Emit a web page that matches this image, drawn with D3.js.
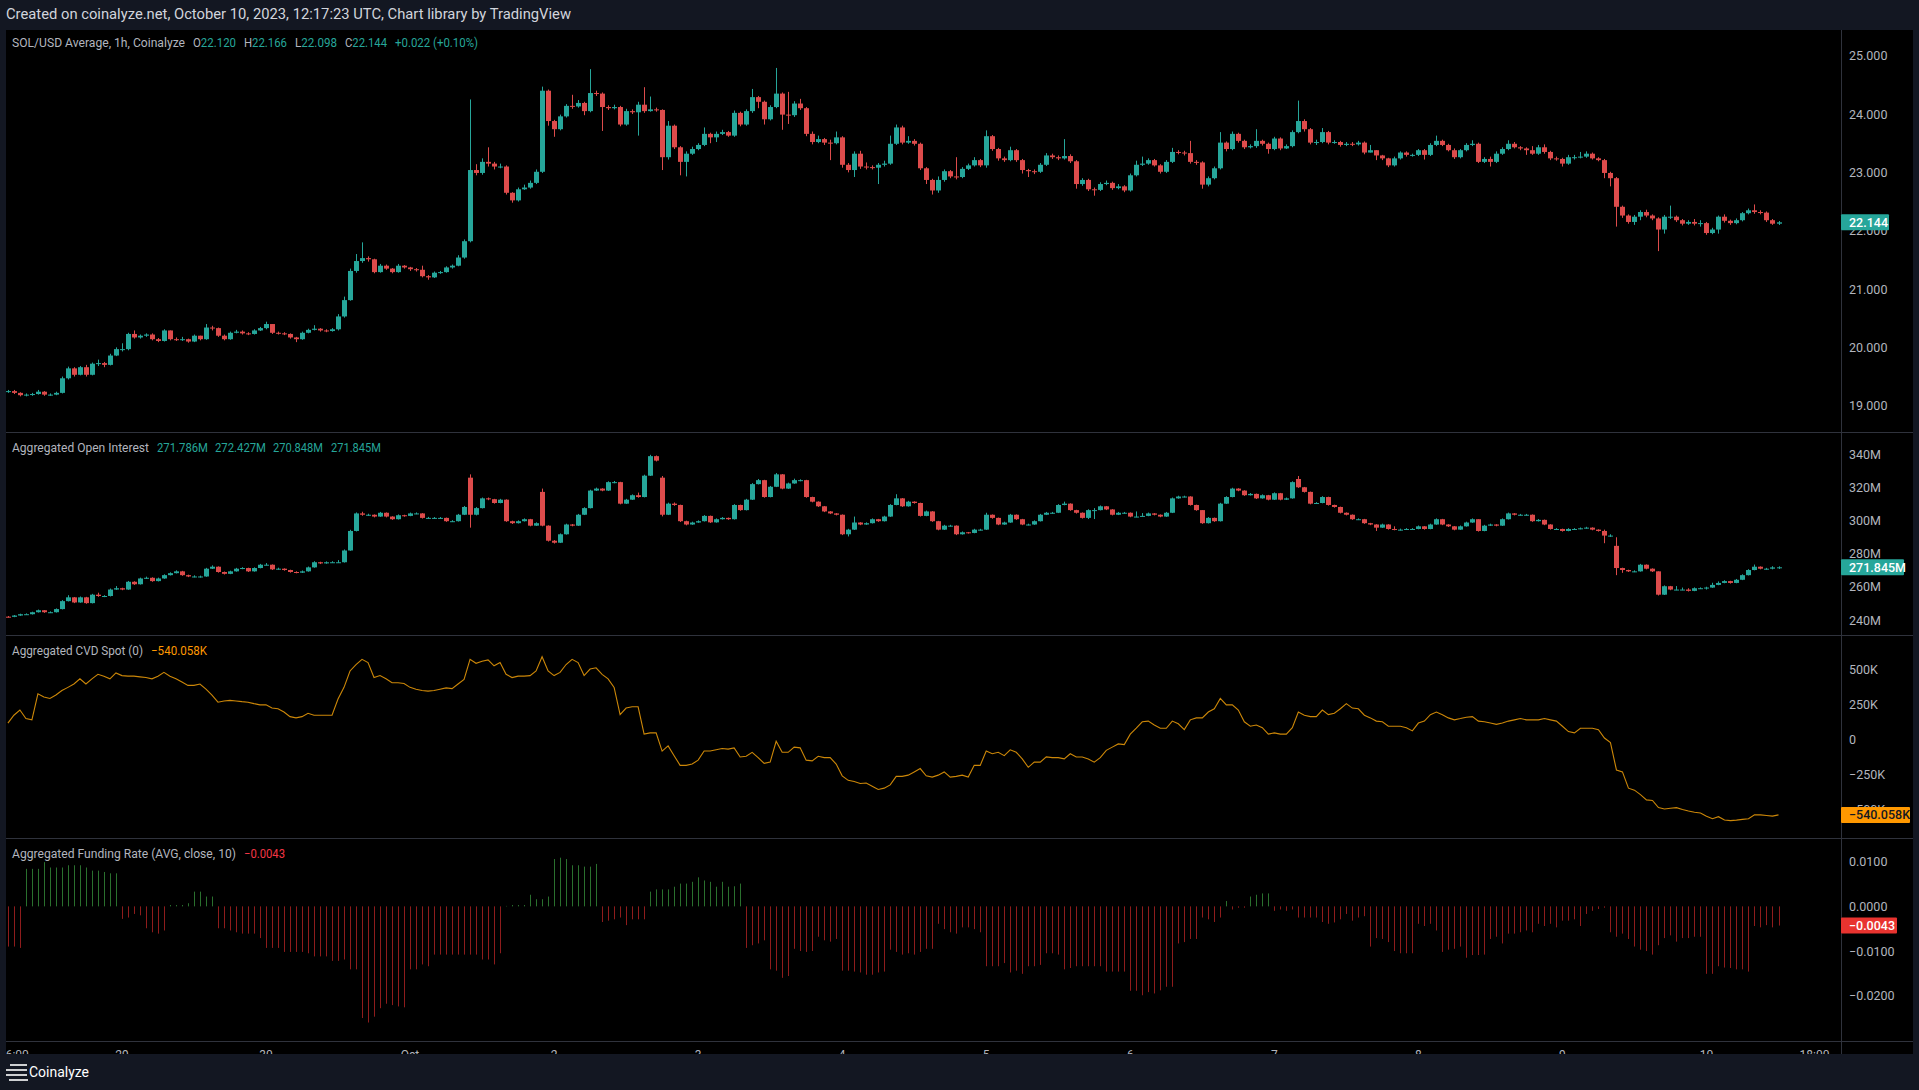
<!DOCTYPE html>
<html><head><meta charset="utf-8">
<script src="https://cdn.jsdelivr.net/npm/d3@7"></script>
<style>html,body{margin:0;padding:0;background:#131722;overflow:hidden}svg{display:block}</style>
</head><body>
<script>
// ---------------- DATA ----------------
const startTime = "2023-09-28T05:00:00Z";   // first hourly bar
const barHours = 1;

const priceOpenFirst = 19.24;
const priceClose = [
19.25,19.22,19.18,19.19,19.20,19.24,19.19,19.19,19.22,19.47,
19.64,19.53,19.66,19.53,19.72,19.73,19.70,19.86,19.97,19.97,
20.23,20.17,20.20,20.22,20.14,20.11,20.29,20.14,20.13,20.14,
20.10,20.20,20.14,20.34,20.33,20.20,20.14,20.25,20.27,20.24,
20.23,20.29,20.33,20.40,20.25,20.24,20.23,20.17,20.14,20.25,
20.30,20.32,20.29,20.28,20.31,20.53,20.81,21.31,21.48,21.53,
21.51,21.29,21.40,21.35,21.29,21.40,21.37,21.34,21.33,21.22,
21.20,21.28,21.29,21.37,21.40,21.54,21.82,23.04,22.99,23.18,
23.15,23.10,23.10,22.65,22.52,22.71,22.74,22.82,23.01,24.40,
23.88,23.74,23.96,24.14,24.13,24.19,24.05,24.36,24.35,24.12,
24.10,24.12,23.82,24.05,24.03,24.16,24.05,24.08,24.07,23.26,
23.80,23.43,23.18,23.32,23.40,23.47,23.66,23.60,23.66,23.69,
23.63,24.02,23.82,24.05,24.29,24.21,23.91,24.12,24.35,23.99,
23.98,24.18,24.10,23.66,23.52,23.57,23.51,23.50,23.60,23.13,
23.04,23.32,23.10,23.09,23.08,23.13,23.15,23.49,23.77,23.51,
23.54,23.49,23.07,22.87,22.69,22.87,23.02,22.93,22.92,23.06,
23.12,23.21,23.12,23.62,23.40,23.24,23.21,23.38,23.21,23.04,
23.02,23.01,23.13,23.29,23.26,23.24,23.28,23.19,22.80,22.87,
22.71,22.70,22.80,22.82,22.73,22.76,22.69,22.95,23.13,23.15,
23.21,23.12,23.01,23.18,23.35,23.34,23.33,23.18,23.17,22.79,
22.90,23.07,23.51,23.40,23.66,23.54,23.43,23.45,23.54,23.49,
23.40,23.58,23.41,23.45,23.69,23.88,23.74,23.51,23.52,23.69,
23.51,23.52,23.47,23.49,23.48,23.51,23.34,23.38,23.29,23.24,
23.12,23.24,23.34,23.30,23.30,23.38,23.30,23.47,23.54,23.47,
23.38,23.26,23.38,23.47,23.49,23.18,23.23,23.18,23.32,23.40,
23.49,23.43,23.41,23.38,23.32,23.43,23.35,23.24,23.23,23.15,
23.26,23.26,23.27,23.32,23.24,23.21,22.99,22.90,22.41,22.26,
22.15,22.24,22.32,22.26,22.21,22.02,22.24,22.24,22.18,22.12,
22.15,22.12,22.13,21.96,22.02,22.24,22.17,22.13,22.18,22.30,
22.35,22.32,22.31,22.18,22.12,22.144];
const priceHigh = [
19.27,19.27,19.23,19.21,19.22,19.27,19.25,19.21,19.24,19.50,
19.67,19.66,19.68,19.70,19.74,19.79,19.75,19.89,20.00,20.07,
20.25,20.29,20.22,20.24,20.24,20.16,20.31,20.29,20.17,20.18,
20.15,20.22,20.20,20.40,20.37,20.34,20.22,20.27,20.30,20.29,
20.26,20.31,20.35,20.44,20.40,20.27,20.26,20.24,20.18,20.27,
20.32,20.38,20.33,20.31,20.33,20.57,20.87,21.35,21.60,21.80,
21.56,21.52,21.43,21.42,21.36,21.43,21.41,21.38,21.36,21.40,
21.24,21.30,21.31,21.39,21.42,21.58,21.85,24.25,23.14,23.24,
23.43,23.18,23.15,23.12,22.66,22.74,22.79,22.86,23.05,24.47,
24.42,23.90,23.99,24.17,24.33,24.24,24.21,24.77,24.40,24.37,
24.15,24.16,24.14,24.09,24.08,24.21,24.46,24.30,24.11,24.08,
23.88,23.82,23.45,23.36,23.44,23.50,23.77,23.68,23.70,23.73,
23.71,24.06,24.04,24.08,24.43,24.31,24.23,24.15,24.79,24.37,
24.38,24.22,24.26,24.12,23.70,23.63,23.59,23.56,23.70,23.62,
23.16,23.36,23.37,23.17,23.12,23.16,23.20,23.63,23.82,23.80,
23.62,23.57,23.51,23.09,22.89,22.93,23.05,23.04,23.26,23.09,
23.15,23.26,23.23,23.72,23.64,23.42,23.27,23.44,23.40,23.23,
23.06,23.05,23.16,23.33,23.32,23.29,23.57,23.31,23.21,22.90,
22.89,22.74,22.83,22.86,22.84,22.80,22.78,22.98,23.20,23.27,
23.24,23.23,23.14,23.21,23.42,23.38,23.37,23.54,23.21,23.19,
22.93,23.10,23.69,23.53,23.70,23.68,23.56,23.48,23.74,23.56,
23.51,23.61,23.60,23.48,23.72,24.23,23.91,23.76,23.56,23.76,
23.71,23.55,23.54,23.52,23.52,23.54,23.53,23.47,23.38,23.30,
23.25,23.27,23.36,23.36,23.32,23.40,23.40,23.50,23.63,23.56,
23.49,23.41,23.40,23.50,23.55,23.51,23.26,23.27,23.36,23.43,
23.55,23.52,23.45,23.43,23.45,23.47,23.48,23.37,23.27,23.25,
23.30,23.30,23.35,23.36,23.34,23.26,23.23,23.01,22.92,22.43,
22.28,22.27,22.35,22.36,22.28,22.23,22.27,22.43,22.26,22.20,
22.18,22.20,22.18,22.15,22.05,22.26,22.28,22.19,22.21,22.32,
22.38,22.45,22.35,22.33,22.20,22.166];
const priceLow = [
19.22,19.20,19.16,19.16,19.17,19.19,19.17,19.17,19.18,19.21,
19.45,19.50,19.52,19.50,19.52,19.68,19.66,19.69,19.85,19.93,
19.95,20.15,20.15,20.18,20.12,20.09,20.10,20.12,20.11,20.11,
20.08,20.09,20.12,20.13,20.29,20.18,20.12,20.13,20.24,20.22,
20.21,20.22,20.28,20.31,20.23,20.22,20.21,20.15,20.09,20.13,
20.24,20.29,20.27,20.26,20.27,20.29,20.51,20.80,21.28,21.45,
21.47,21.27,21.28,21.33,21.27,21.28,21.35,21.31,21.30,21.20,
21.16,21.19,21.26,21.28,21.35,21.39,21.52,21.80,22.95,22.96,
23.10,23.05,23.07,22.62,22.48,22.50,22.70,22.72,22.80,22.99,
23.80,23.61,23.72,23.94,24.09,24.11,23.98,24.03,24.31,23.71,
24.07,24.08,23.79,23.80,24.00,23.63,24.02,24.04,24.04,23.04,
23.22,23.40,22.95,22.93,23.30,23.38,23.45,23.50,23.52,23.64,
23.61,23.61,23.79,23.80,24.02,24.10,23.82,23.89,24.10,23.73,
23.83,23.95,24.07,23.62,23.48,23.50,23.47,23.21,23.48,23.08,
23.00,22.92,23.06,23.05,23.05,22.80,23.10,23.13,23.47,23.48,
23.49,23.46,23.04,22.80,22.62,22.65,22.84,22.90,22.88,22.90,
23.04,23.10,23.09,23.08,23.37,23.20,23.18,23.19,23.18,22.98,
22.92,22.97,22.99,23.11,23.23,23.21,23.22,23.16,22.72,22.77,
22.68,22.60,22.68,22.78,22.70,22.71,22.66,22.67,22.93,23.11,
23.13,23.10,22.98,22.99,23.16,23.31,23.29,23.15,23.13,22.72,
22.76,22.88,23.05,23.36,23.38,23.51,23.40,23.41,23.42,23.46,
23.32,23.38,23.38,23.40,23.43,23.67,23.70,23.48,23.47,23.50,
23.48,23.49,23.44,23.45,23.45,23.46,23.31,23.34,23.21,23.21,
23.09,23.10,23.22,23.27,23.27,23.28,23.22,23.28,23.45,23.45,
23.36,23.23,23.24,23.36,23.45,23.16,23.16,23.10,23.16,23.30,
23.38,23.41,23.38,23.30,23.30,23.30,23.32,23.21,23.20,23.10,
23.13,23.22,23.24,23.25,23.22,23.19,22.90,22.76,22.07,22.22,
22.12,22.10,22.18,22.23,22.18,21.65,21.95,22.20,22.15,22.09,
22.10,22.09,22.07,21.93,21.94,21.95,22.14,22.10,22.11,22.16,
22.28,22.29,22.28,22.15,22.10,22.098];

const oiOpenFirst = 242.0;
const oiOpenGaps = {77:326.0, 89:317.4, 109:326.0, 215:325.2, 268:284.8};
const oiClose = [
241.9,242.7,243.5,243.5,244.7,245.9,244.7,244.7,246.6,251.4,
253.7,250.6,253.7,250.2,255.3,254.5,254.5,258.4,259.2,258.4,
263.1,261.6,265.1,265.5,263.5,265.1,267.1,268.3,269.4,267.1,
266.3,266.3,266.3,271.0,272.2,269.0,267.9,269.4,271.0,271.4,
269.4,271.4,273.4,273.4,270.6,271.0,270.2,269.0,268.6,269.4,
271.8,274.9,274.2,274.9,274.9,274.9,282.0,293.8,304.4,303.6,
303.6,302.5,304.8,302.5,300.9,303.3,302.9,304.4,304.4,301.7,
301.7,301.7,301.7,299.7,299.7,303.6,308.3,303.6,307.6,313.5,
313.0,310.7,312.7,299.7,298.5,299.7,300.9,297.0,298.5,297.0,
287.9,286.7,291.8,297.7,297.0,303.6,307.6,318.2,319.4,318.2,
323.3,323.3,310.3,312.7,315.4,314.3,327.2,339.0,336.3,303.6,
310.3,309.5,299.7,297.7,298.9,299.7,302.9,299.0,300.9,301.7,
300.9,309.5,306.4,312.7,322.1,324.5,314.3,320.5,328.0,319.4,
322.5,324.5,324.5,314.3,311.5,308.7,305.6,304.4,303.6,291.8,
294.6,298.9,297.7,298.5,300.9,299.7,302.5,309.5,313.5,308.7,
311.5,310.7,302.9,305.6,299.7,294.6,297.0,297.0,291.8,293.0,
292.6,294.6,294.6,303.6,301.7,297.7,298.9,303.6,300.9,297.7,
297.7,299.7,303.6,304.8,304.8,309.5,310.3,306.4,304.8,301.7,
306.4,306.4,308.7,306.8,303.6,304.8,304.8,302.5,302.5,302.9,
304.4,303.6,302.5,304.8,313.5,314.6,314.6,309.5,306.4,298.5,
301.7,299.7,310.3,314.3,319.4,318.2,315.4,316.2,313.5,315.4,
312.7,316.6,312.7,313.5,323.3,320.2,317.4,310.3,310.7,314.3,
309.5,308.3,304.8,303.6,300.9,300.9,298.5,297.7,295.8,297.7,
295.0,294.6,294.6,295.0,295.0,296.6,295.0,297.7,300.9,297.7,
296.6,294.6,296.6,298.9,300.9,293.8,297.0,297.7,297.0,300.9,
304.4,303.6,303.6,303.6,299.7,300.5,297.7,295.0,295.0,293.8,
295.0,295.0,295.4,295.8,294.6,293.8,291.0,291.0,271.4,270.2,
269.4,269.4,273.4,271.0,269.4,255.3,260.4,258.4,258.4,258.4,
257.6,259.2,259.2,259.6,261.2,262.4,263.5,262.4,264.3,267.1,
270.2,272.2,271.0,271.0,271.786,271.845];
const oiHigh = [
242.4,243.0,243.8,244.0,245.0,246.3,246.0,245.2,247.0,252.0,
255.0,253.9,254.2,254.0,255.8,256.5,255.0,259.0,260.5,259.5,
263.6,263.4,265.6,266.2,265.8,265.6,267.6,268.8,270.0,269.7,
267.4,267.0,266.8,271.5,273.0,272.4,269.3,269.8,271.5,271.9,
271.6,271.8,273.9,274.4,273.6,271.6,271.2,270.4,269.4,269.9,
272.3,275.5,275.2,275.4,275.5,276.2,282.6,294.5,305.0,305.4,
304.2,303.8,305.3,305.0,302.7,303.8,303.6,304.9,305.0,304.6,
302.3,302.2,302.2,301.9,300.3,304.1,308.9,328.0,308.2,314.0,
314.0,313.2,313.2,312.9,300.0,300.2,301.4,301.1,299.0,319.4,
297.2,288.3,292.3,298.2,298.0,304.1,308.1,318.7,320.0,319.6,
323.8,324.0,323.5,313.2,315.9,317.0,327.8,339.8,339.4,327.0,
310.9,311.0,309.7,300.0,299.4,300.2,303.4,303.1,301.4,302.2,
301.9,310.0,309.7,313.2,322.7,325.2,324.7,321.0,328.8,328.2,
323.0,325.4,325.0,324.7,314.5,311.7,308.9,305.8,304.6,303.8,
295.1,302.5,299.1,299.0,301.4,301.1,303.0,310.0,316.0,313.7,
312.0,311.7,310.9,306.1,305.8,299.9,297.5,297.5,297.2,293.5,
293.2,295.1,295.1,304.8,303.8,301.9,299.4,304.1,303.8,301.1,
298.2,300.2,304.1,305.3,305.3,310.0,311.5,310.5,306.6,305.0,
306.9,307.6,309.2,308.9,307.0,305.3,305.3,305.0,305.6,304.6,
304.9,304.6,303.8,305.3,314.0,315.1,315.1,314.8,309.7,302.9,
302.2,301.9,310.8,314.8,319.9,319.6,318.4,316.7,316.4,315.9,
315.6,317.1,316.8,314.0,323.8,327.0,320.4,317.6,311.2,314.8,
314.5,309.7,308.5,305.0,303.8,301.4,301.1,298.7,297.9,298.2,
297.9,296.6,295.2,295.5,295.5,297.1,296.8,298.2,301.4,301.1,
297.9,296.8,297.1,299.4,301.4,297.9,297.5,298.2,297.9,301.4,
304.9,304.6,304.1,304.1,303.8,301.0,300.7,297.9,295.5,295.2,
295.5,295.5,295.9,296.3,296.0,294.8,294.6,291.8,290.0,271.6,
270.4,270.0,273.9,273.6,271.2,268.5,260.9,260.6,260.5,259.6,
259.2,259.7,259.7,260.1,262.5,263.3,264.0,263.7,264.8,267.6,
270.7,273.5,272.4,271.5,272.5,272.427];
const oiLow = [
241.5,241.7,242.5,243.2,243.3,244.5,244.3,244.2,244.5,246.4,
251.2,250.2,250.4,249.8,250.0,254.0,253.8,254.2,258.2,258.0,
258.2,261.2,261.4,264.8,263.1,263.3,264.9,266.9,268.1,266.7,
265.9,265.8,265.6,266.1,270.8,268.6,267.5,267.7,269.2,270.7,
269.0,269.2,271.2,273.0,270.2,270.4,269.8,268.6,268.2,268.4,
269.2,271.6,273.8,274.0,274.5,274.5,274.7,281.8,293.5,303.0,
303.0,302.0,302.3,302.0,300.5,300.7,302.4,302.7,303.9,301.3,
301.2,301.2,301.2,299.3,299.2,299.5,303.4,295.8,303.2,307.4,
312.4,310.3,310.5,299.3,298.0,298.3,299.5,296.6,296.8,296.6,
287.4,286.2,286.5,291.6,296.6,296.8,303.4,307.4,318.0,317.8,
318.0,322.6,309.9,310.1,312.5,313.9,314.1,327.0,335.8,302.6,
303.4,309.0,299.2,297.2,297.5,298.7,299.5,298.6,298.8,300.7,
300.5,300.7,306.0,306.2,312.5,321.9,313.9,314.1,320.3,319.0,
319.2,322.3,323.8,313.9,311.1,308.3,305.2,304.0,303.2,291.3,
290.5,294.4,297.3,297.5,298.3,299.3,299.5,302.3,309.3,308.3,
308.5,310.3,302.5,302.7,299.3,294.2,294.4,296.5,291.3,291.6,
292.2,292.4,294.1,294.4,301.2,297.3,297.5,298.7,300.5,297.3,
297.2,297.5,299.5,303.4,304.3,304.6,309.3,306.0,304.3,301.3,
301.0,301.0,306.2,306.4,303.2,303.4,304.3,302.1,302.1,302.5,
302.7,303.2,302.1,302.3,304.6,313.3,314.1,309.1,306.0,298.1,
298.3,299.3,299.5,310.1,314.1,317.8,315.0,315.2,313.1,313.3,
312.3,312.5,312.3,312.5,313.3,319.8,317.0,309.9,310.1,310.5,
309.1,307.9,304.4,303.2,300.5,300.4,298.1,297.3,293.8,295.6,
294.6,294.2,294.1,294.4,294.5,294.8,294.6,294.8,297.5,297.3,
296.2,294.2,294.4,296.4,298.7,293.4,293.6,296.8,296.6,296.8,
300.7,303.2,303.1,303.1,299.3,299.5,297.3,294.6,294.5,293.4,
293.6,294.5,294.8,295.2,294.2,293.4,286.4,290.2,267.1,268.5,
269.0,268.9,269.2,270.6,269.0,254.8,255.1,258.0,258.0,258.0,
257.2,257.4,258.7,258.4,259.4,261.0,262.2,262.0,262.2,264.1,
266.9,270.0,270.6,270.4,270.6,270.848];

// CVD spot, in thousands
const cvdSpot = [
116,172,209,148,139,325,302,292,316,348,
371,395,432,395,432,464,451,432,474,455,
451,451,446,441,432,451,478,451,432,409,
385,385,395,358,316,265,274,278,274,269,
265,255,246,246,223,218,195,162,153,162,
186,172,172,172,172,288,371,488,534,571,
548,441,455,432,404,404,399,371,358,348,
344,348,358,367,362,395,427,571,543,557,
567,525,548,464,441,451,451,455,488,590,
488,455,478,534,571,548,455,502,511,464,
432,371,176,223,232,232,37,46,46,-84,
-47,-117,-186,-186,-177,-149,-84,-84,-75,-66,
-70,-61,-126,-121,-93,-131,-172,-163,-14,-93,
-93,-56,-61,-149,-154,-121,-131,-131,-177,-261,
-293,-302,-316,-312,-335,-358,-349,-326,-265,-265,
-256,-233,-209,-261,-270,-256,-233,-270,-265,-256,
-270,-186,-186,-84,-103,-93,-117,-75,-93,-140,
-200,-163,-163,-126,-131,-131,-140,-103,-126,-126,
-140,-163,-131,-79,-56,-33,-38,37,79,125,
130,102,79,79,130,111,69,139,153,153,
195,218,292,246,246,209,125,93,102,83,
37,46,37,37,83,195,172,162,162,209,
176,186,218,255,223,218,172,153,130,125,
93,93,93,83,60,116,130,176,195,176,
153,139,148,158,162,130,125,116,107,116,
130,139,148,139,139,139,148,139,130,93,
55,46,79,79,79,69,9,-24,-219,-233,
-349,-363,-395,-433,-437,-488,-498,-493,-488,-502,
-512,-521,-526,-549,-567,-553,-577,-581,-577,-572,
-567,-540,-540,-544,-549,-540.058];

const fundingRate = [
-0.0090,-0.0090,-0.0093,0.0084,0.0084,0.0084,0.0099,0.0087,0.0087,0.0087,
0.0092,0.0092,0.0092,0.0087,0.0080,0.0080,0.0077,0.0074,0.0074,-0.0028,
-0.0025,-0.0017,-0.0020,-0.0049,-0.0058,-0.0061,-0.0054,0.0003,0.0003,0.0003,
0.0007,0.0033,0.0033,0.0022,0.0022,-0.0049,-0.0049,-0.0054,-0.0058,-0.0061,
-0.0061,-0.0061,-0.0071,-0.0093,-0.0093,-0.0093,-0.0102,-0.0102,-0.0102,-0.0102,
-0.0105,-0.0112,-0.0112,-0.0112,-0.0122,-0.0122,-0.0119,-0.0141,-0.0141,-0.0250,
-0.0260,-0.0247,-0.0228,-0.0218,-0.0221,-0.0224,-0.0226,-0.0141,-0.0141,-0.0130,
-0.0134,-0.0108,-0.0108,-0.0108,-0.0108,-0.0108,-0.0108,-0.0108,-0.0108,-0.0119,
-0.0119,-0.0130,-0.0105,0.0001,0.0003,0.0003,0.0003,0.0026,0.0016,0.0016,
0.0022,0.0106,0.0109,0.0106,0.0092,0.0092,0.0089,0.0089,0.0095,-0.0035,
-0.0032,-0.0029,-0.0025,-0.0042,-0.0029,-0.0029,-0.0029,0.0033,0.0038,0.0038,
0.0038,0.0044,0.0051,0.0051,0.0055,0.0065,0.0058,0.0055,0.0044,0.0055,
0.0044,0.0045,0.0051,-0.0093,-0.0087,-0.0083,-0.0076,-0.0141,-0.0144,-0.0160,
-0.0156,-0.0095,-0.0100,-0.0102,-0.0100,-0.0068,-0.0076,-0.0079,-0.0073,-0.0144,
-0.0144,-0.0146,-0.0148,-0.0153,-0.0153,-0.0148,-0.0146,-0.0097,-0.0102,-0.0108,
-0.0105,-0.0108,-0.0102,-0.0095,-0.0095,-0.0039,-0.0051,-0.0058,-0.0061,-0.0047,
-0.0047,-0.0051,-0.0058,-0.0134,-0.0134,-0.0134,-0.0127,-0.0148,-0.0144,-0.0151,
-0.0134,-0.0134,-0.0131,-0.0105,-0.0105,-0.0108,-0.0141,-0.0138,-0.0134,-0.0134,
-0.0134,-0.0134,-0.0134,-0.0146,-0.0146,-0.0146,-0.0146,-0.0189,-0.0189,-0.0199,
-0.0192,-0.0195,-0.0188,-0.0180,-0.0180,-0.0083,-0.0080,-0.0073,-0.0073,-0.0025,
-0.0029,-0.0035,-0.0025,0.0012,-0.0007,-0.0003,-0.0003,0.0022,0.0026,0.0029,
0.0029,-0.0010,-0.0007,-0.0010,-0.0007,-0.0025,-0.0025,-0.0025,-0.0025,-0.0035,
-0.0039,-0.0036,-0.0029,-0.0017,-0.0032,-0.0025,-0.0022,-0.0090,-0.0071,-0.0073,
-0.0080,-0.0100,-0.0105,-0.0105,-0.0105,-0.0039,-0.0044,-0.0039,-0.0054,-0.0102,
-0.0097,-0.0095,-0.0090,-0.0115,-0.0109,-0.0109,-0.0108,-0.0073,-0.0068,-0.0083,
-0.0061,-0.0061,-0.0058,-0.0054,-0.0058,-0.0039,-0.0044,-0.0039,-0.0047,-0.0032,
-0.0032,-0.0029,-0.0044,-0.0017,-0.0010,-0.0006,-0.0003,-0.0058,-0.0068,-0.0061,
-0.0073,-0.0090,-0.0097,-0.0100,-0.0108,-0.0087,-0.0071,-0.0065,-0.0079,-0.0071,
-0.0071,-0.0068,-0.0068,-0.0151,-0.0151,-0.0134,-0.0137,-0.0138,-0.0141,-0.0141,
-0.0146,-0.0044,-0.0047,-0.0042,-0.0047,-0.0043];

const priceTicks = [19,20,21,22,23,24,25];
const oiTicks = [240,260,280,300,320,340];
const cvdTicks = [500,250,0,-250,-500];
const cvdTickLabels = ["500K","250K","0","\u2212250K","\u2212500K"];
const frTicks = [0.01,0,-0.01,-0.02];
const frTickLabels = ["0.0100","0.0000","\u22120.0100","\u22120.0200"];
const timeTickLabels = ["06:00","29","30","Oct","2","3","4","5","6","7","8","9","10","18:00"];
const timeTickDates = ["2023-09-28T06:00Z","2023-09-29T00:00Z","2023-09-30T00:00Z","2023-10-01T00:00Z",
 "2023-10-02T00:00Z","2023-10-03T00:00Z","2023-10-04T00:00Z","2023-10-05T00:00Z","2023-10-06T00:00Z",
 "2023-10-07T00:00Z","2023-10-08T00:00Z","2023-10-09T00:00Z","2023-10-10T00:00Z","2023-10-10T18:00Z"];

// ---------------- LAYOUT / STYLE ----------------
const W = 1919, H = 1090;
const FONT = "Roboto, 'Liberation Sans', Arial, sans-serif";
const UP = "#26a69a", DN = "#dd4b4b";
const FRAME = "#131722", SEP = "#2f323c", TXT = "#b2b5be";
const plotL = 6, plotR = 1841, axisR = 1913;
const panes = {price:[30,432], oi:[433,635], cvd:[636,838], fr:[839,1041]};

const t0 = new Date(startTime).getTime();
const n = priceClose.length;
const times = d3.range(n).map(i => new Date(t0 + i * barHours * 3600e3));

const x = d3.scaleUtc().domain([times[0], times[n-1]]).range([7.9, 1778.5]);
const yP = d3.scaleLinear().domain([19,25]).range([405.7,55.7]);
const yOI = d3.scaleLinear().domain([240,340]).range([620,454.5]);
const yCVD = d3.scaleLinear().domain([-500,500]).range([809.3,669.3]);
const yFR = d3.scaleLinear().domain([-0.02,0.01]).range([995.7,861.7]);

const svg = d3.select("body").append("svg").attr("width", W).attr("height", H)
  .style("font-family", FONT);

svg.append("rect").attr("width", W).attr("height", H).attr("fill", FRAME);
svg.append("rect").attr("x", plotL).attr("y", 30).attr("width", axisR - plotL).attr("height", 1054 - 30).attr("fill", "#000");

const defs = svg.append("defs");
Object.entries(panes).forEach(([k,[a,b]]) => {
  defs.append("clipPath").attr("id", "clip-" + k).append("rect")
    .attr("x", plotL).attr("y", a).attr("width", plotR - plotL).attr("height", b - a);
});

// separators
[432, 635, 838, 1041].forEach(yv => {
  svg.append("line").attr("x1", plotL).attr("x2", axisR).attr("y1", yv + 0.5).attr("y2", yv + 0.5)
    .attr("stroke", SEP).attr("stroke-width", 1);
});
svg.append("line").attr("x1", plotR + 0.5).attr("x2", plotR + 0.5).attr("y1", 30).attr("y2", 1054)
  .attr("stroke", SEP).attr("stroke-width", 1);

// candles
function buildRows(openFirst, closes, highs, lows, gaps) {
  return closes.map((c, i) => {
    let o = i === 0 ? openFirst : closes[i-1];
    if (gaps && gaps[i] !== undefined) o = gaps[i];
    const h = Math.max(highs[i], o, c), l = Math.min(lows[i], o, c);
    return {t: times[i], o, h, l, c};
  });
}
function drawCandles(key, rows, y) {
  const g = svg.append("g").attr("clip-path", `url(#clip-${key})`);
  g.selectAll("line").data(rows).join("line")
    .attr("x1", d => Math.round(x(d.t)) + 0.5).attr("x2", d => Math.round(x(d.t)) + 0.5)
    .attr("y1", d => y(d.h)).attr("y2", d => y(d.l))
    .attr("stroke", d => d.c >= d.o ? UP : DN).attr("stroke-width", 1);
  g.selectAll("rect").data(rows).join("rect")
    .attr("x", d => Math.round(x(d.t)) - 2).attr("width", 5)
    .attr("y", d => Math.min(y(d.o), y(d.c)))
    .attr("height", d => Math.max(1, Math.abs(y(d.o) - y(d.c))))
    .attr("fill", d => d.c >= d.o ? UP : DN);
}
drawCandles("price", buildRows(priceOpenFirst, priceClose, priceHigh, priceLow), yP);
drawCandles("oi", buildRows(oiOpenFirst, oiClose, oiHigh, oiLow, oiOpenGaps), yOI);

// CVD line
svg.append("g").attr("clip-path", "url(#clip-cvd)").append("path")
  .datum(cvdSpot)
  .attr("d", d3.line().x((d,i) => x(times[i])).y(d => yCVD(d)))
  .attr("fill", "none").attr("stroke", "#cc8708").attr("stroke-width", 1.1);

// Funding histogram
svg.append("g").attr("clip-path", "url(#clip-fr)").selectAll("line").data(fundingRate).join("line")
  .attr("x1", (d,i) => Math.round(x(times[i])) + 0.5).attr("x2", (d,i) => Math.round(x(times[i])) + 0.5)
  .attr("y1", yFR(0)).attr("y2", d => yFR(d))
  .attr("stroke", d => d >= 0 ? "#2a702e" : "#8e1c1c").attr("stroke-width", 1);

// axis labels
function axisLabels(ticks, labels, y) {
  svg.append("g").selectAll("text").data(ticks).join("text")
    .attr("x", 1849).attr("y", d => y(d)).attr("dy", "0.36em")
    .attr("fill", TXT).attr("font-size", 12.5).text((d,i) => labels[i]);
}
axisLabels(priceTicks, priceTicks.map(d => d3.format(".3f")(d)), yP);
axisLabels(oiTicks, oiTicks.map(d => d + "M"), yOI);
axisLabels(cvdTicks, cvdTickLabels, yCVD);
axisLabels(frTicks, frTickLabels, yFR);

// value badges (they cover the tick label underneath, as in the original)
function badge(yc, w, bg, fg, label) {
  svg.append("rect").attr("x", plotR).attr("y", yc - 8).attr("width", w).attr("height", 16)
    .attr("rx", 1).attr("fill", bg);
  svg.append("text").attr("x", 1849).attr("y", yc).attr("dy", "0.36em").attr("fill", fg)
    .attr("font-size", 12.5).attr("font-weight", 500).text(label);
}
badge(yP(priceClose[n-1]), 48, UP, "#ffffff", "22.144");
badge(yOI(oiClose[n-1]), 63, UP, "#ffffff", "271.845M");
badge(yCVD(cvdSpot[n-1]), 69, "#ff9800", "#131722", "\u2212540.058K");
badge(yFR(fundingRate[n-1]), 56, "#e8332f", "#ffffff", "\u22120.0043");

// time axis labels (partly hidden by bottom bar, as in the original)
svg.append("g").selectAll("text").data(timeTickDates).join("text")
  .attr("x", d => x(new Date(d))).attr("y", 1059).attr("text-anchor", "middle")
  .attr("fill", TXT).attr("font-size", 12).text((d,i) => timeTickLabels[i]);

// frame strips over everything at edges
svg.append("rect").attr("x", 0).attr("y", 1054).attr("width", W).attr("height", H - 1054).attr("fill", FRAME);
svg.append("rect").attr("x", 0).attr("y", 0).attr("width", plotL).attr("height", H).attr("fill", FRAME);
svg.append("rect").attr("x", 0).attr("y", 0).attr("width", W).attr("height", 30).attr("fill", FRAME);
svg.append("rect").attr("x", axisR).attr("y", 0).attr("width", W - axisR).attr("height", H).attr("fill", FRAME);

// header
svg.append("text").attr("x", 6).attr("y", 18.5).attr("fill", "#d1d4dc").attr("font-size", 14)
  .attr("textLength", 565).attr("lengthAdjust", "spacingAndGlyphs")
  .text("Created on coinalyze.net, October 10, 2023, 12:17:23 UTC, Chart library by TradingView");

// legends
function legendText(xs, w, y, parts) {
  const t = svg.append("text").attr("x", xs).attr("y", y).attr("font-size", 12.5)
    .attr("textLength", w).attr("lengthAdjust", "spacingAndGlyphs");
  parts.forEach(([s, c]) => t.append("tspan").attr("fill", c).text(s));
}
const TEAL = "#26a69a";
legendText(12, 173, 46.5, [["SOL/USD Average, 1h, Coinalyze", TXT]]);
legendText(193, 43, 46.5, [["O", TXT], ["22.120", TEAL]]);
legendText(244, 43, 46.5, [["H", TXT], ["22.166", TEAL]]);
legendText(295, 42, 46.5, [["L", TXT], ["22.098", TEAL]]);
legendText(345, 42, 46.5, [["C", TXT], ["22.144", TEAL]]);
legendText(395, 83, 46.5, [["+0.022 (+0.10%)", TEAL]]);

legendText(12, 137, 452.3, [["Aggregated Open Interest", TXT]]);
legendText(157, 51, 452.3, [["271.786M", TEAL]]);
legendText(215, 51, 452.3, [["272.427M", TEAL]]);
legendText(273, 50, 452.3, [["270.848M", TEAL]]);
legendText(331, 50, 452.3, [["271.845M", TEAL]]);

legendText(12, 131, 655, [["Aggregated CVD Spot (0)", TXT]]);
legendText(151, 56, 655, [["\u2212540.058K", "#ff9800"]]);

legendText(12, 224, 857.7, [["Aggregated Funding Rate (AVG, close, 10)", TXT]]);
legendText(244, 41, 857.7, [["\u22120.0043", "#f23645"]]);

// footer logo
const logo = svg.append("g").attr("stroke", "#ffffff").attr("stroke-width", 1.6);
[[10,27,1065],[6,27,1070],[6,27,1075],[9,28,1080]].forEach(([a,b,yy]) =>
  logo.append("line").attr("x1", a).attr("x2", b).attr("y1", yy).attr("y2", yy));
svg.append("text").attr("x", 29).attr("y", 1076.5).attr("fill", "#ffffff").attr("font-size", 14)
  .attr("textLength", 60).attr("lengthAdjust", "spacingAndGlyphs").text("Coinalyze");
</script>
</body></html>
